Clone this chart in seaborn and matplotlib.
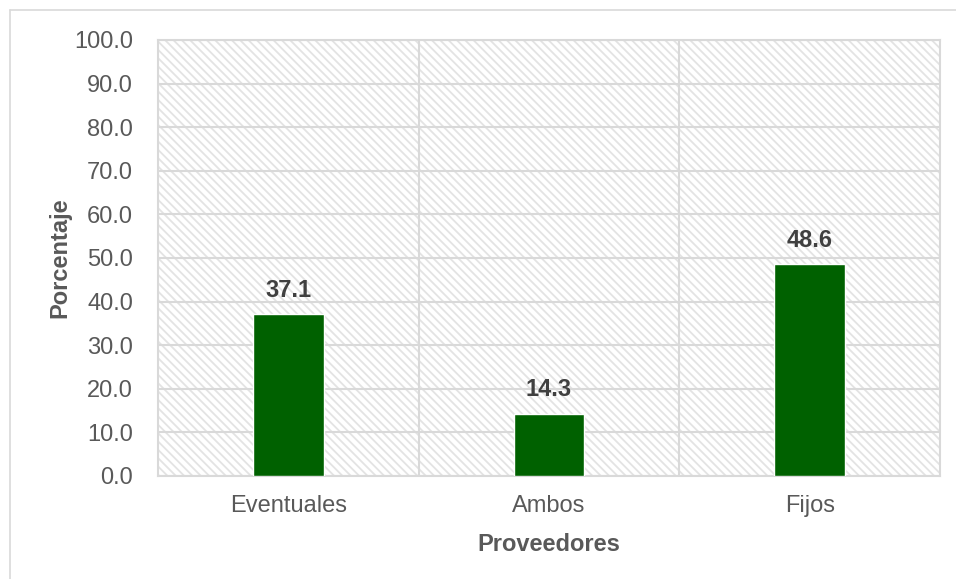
import matplotlib
matplotlib.use("Agg")
import matplotlib.pyplot as plt
import seaborn as sns
import pandas as pd
from matplotlib.patches import Rectangle
from matplotlib.lines import Line2D

categories = ["Eventuales", "Ambos", "Fijos"]
values = [37.1, 14.3, 48.6]
yticks = [0, 10, 20, 30, 40, 50, 60, 70, 80, 90, 100]

df = pd.DataFrame({"Proveedores": categories, "Porcentaje": values})

sns.set_theme(style="white")
plt.rcParams['font.family'] = ['Liberation Sans', 'DejaVu Sans']
plt.rcParams['hatch.color'] = '#e3e3e3'
plt.rcParams['hatch.linewidth'] = 1.3

fig = plt.figure(figsize=(9.56, 5.79), dpi=100)
W, H = 956, 579
ax = fig.add_axes([158 / W, 1 - 476 / H, (940 - 158) / W, (476 - 40) / H])

# figure border (left and top)
fig.add_artist(Line2D([10 / W, 10 / W], [0, 1 - 10 / H], transform=fig.transFigure,
                      color='#d9d9d9', lw=1.2))
fig.add_artist(Line2D([10 / W, 1], [1 - 10 / H, 1 - 10 / H], transform=fig.transFigure,
                      color='#d9d9d9', lw=1.2))

# hatched background
ax.add_patch(Rectangle((0, 0), 1, 1, transform=ax.transAxes, facecolor='white',
                       edgecolor='#e3e3e3', hatch='\\\\\\\\', lw=0, zorder=0))

sns.barplot(data=df, x="Proveedores", y="Porcentaje", ax=ax, color='#006100',
            width=0.27, saturation=1, zorder=3)

ax.set_ylim(0, 100)
ax.set_xlim(-0.5, 2.5)
ax.set_yticks(yticks)
ax.set_yticklabels([f"{v:.1f}" for v in yticks])

for y in yticks:
    ax.axhline(y, color='#d9d9d9', lw=1.5, zorder=1)
for x in [0.5, 1.5]:
    ax.axvline(x, color='#d9d9d9', lw=1.5, zorder=1)

for s in ax.spines.values():
    s.set_color('#d9d9d9')
    s.set_linewidth(1.5)
    s.set_zorder(1)

ax.tick_params(axis='both', length=0, labelsize=17, labelcolor='#595959')
ax.tick_params(axis='y', pad=18)
ax.tick_params(axis='x', pad=14)

ax.set_xlabel("Proveedores", fontsize=17, fontweight='bold', color='#595959', labelpad=11)
ax.set_ylabel("Porcentaje", fontsize=17, fontweight='bold', color='#595959', labelpad=2)

for i, v in enumerate(values):
    ax.annotate(f"{v:.1f}", (i, v), xytext=(0, 9), textcoords='offset points',
                ha='center', va='bottom', fontsize=17, fontweight='bold', color='#404040')

fig.savefig("out.png", dpi=100)
